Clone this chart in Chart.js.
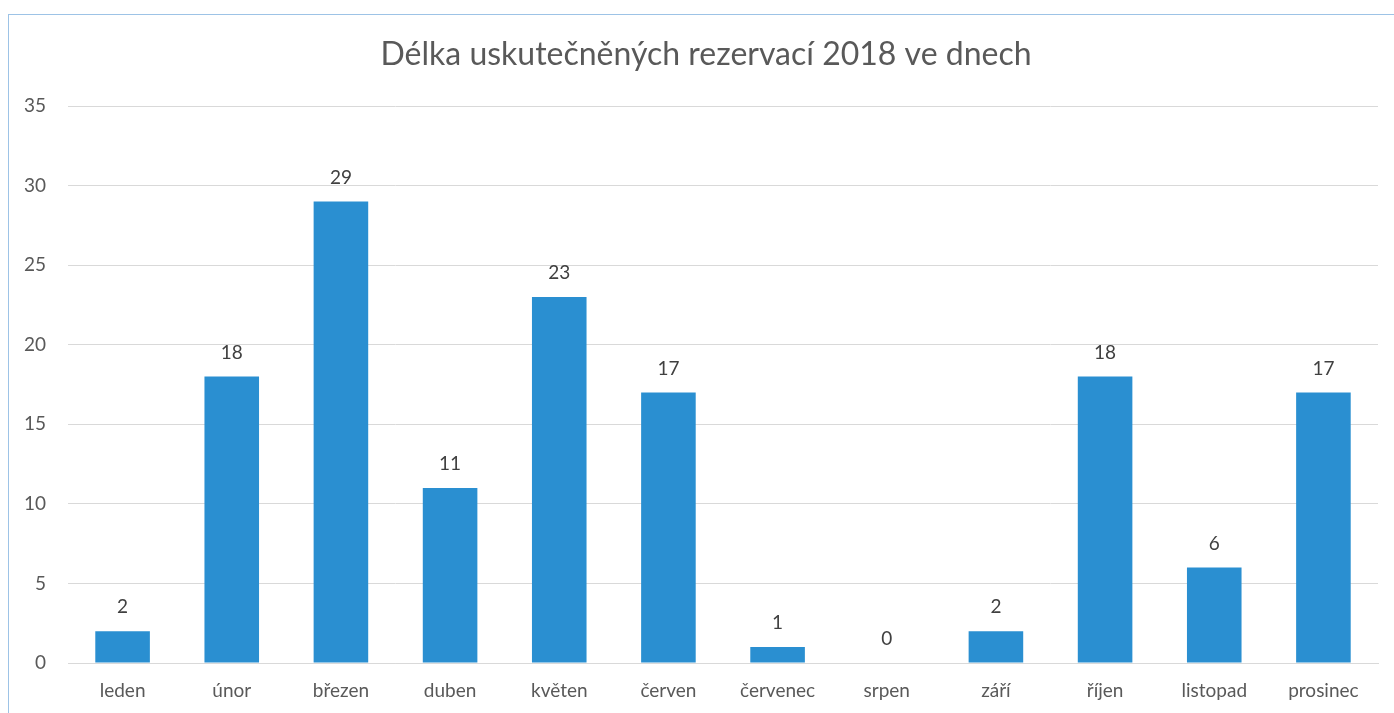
<!DOCTYPE html>
<html>
<head>
<meta charset="utf-8">
<script src="https://cdn.jsdelivr.net/npm/chart.js@4"></script>
<style>
  html, body { margin: 0; padding: 0; background: #fff; overflow: hidden; }
  #frame { position: absolute; left: 8px; top: 14px; width: 1420px; height: 740px; border: 1px solid #9DC3E6; }
  #wrap { position: absolute; left: 0; top: 0; width: 1394px; height: 713px; }
</style>
</head>
<body>
<div id="frame"></div>
<div id="wrap"><canvas id="barChart"></canvas></div>
<script>
// Délka uskutečněných rezervací 2018
const months = ['leden', 'únor', 'březen', 'duben', 'květen', 'červen', 'červenec', 'srpen', 'září', 'říjen', 'listopad', 'prosinec'];
const days = [2, 18, 29, 11, 23, 17, 1, 0, 2, 18, 6, 17];
const yTicks = [0, 5, 10, 15, 20, 25, 30, 35];
const chartTitle = 'Délka uskutečněných rezervací 2018 ve dnech';

const fontName = 'Lato, "Open Sans", sans-serif';

// nadpis (vycentrovany jako v Excelu) + hodnoty nad sloupci
const valueLabels = {
  id: 'valueLabels',
  afterDraw(chart) {
    const ctx = chart.ctx;
    ctx.save();
    ctx.font = '32px ' + fontName;
    ctx.fillStyle = '#595959';
    ctx.textAlign = 'center';
    ctx.textBaseline = 'middle';
    ctx.fillText(chartTitle, chart.width / 2 + 9, 55);
    ctx.restore();
  },
  afterDatasetsDraw(chart) {
    const ctx = chart.ctx;
    const meta = chart.getDatasetMeta(0);
    ctx.save();
    ctx.font = '19px ' + fontName;
    ctx.fillStyle = '#404040';
    ctx.textAlign = 'center';
    ctx.textBaseline = 'middle';
    meta.data.forEach((bar, i) => {
      ctx.fillText(String(days[i]), bar.x, bar.y - 24);
    });
    ctx.restore();
  }
};

const ctx = document.getElementById('barChart').getContext('2d');
new Chart(ctx, {
  type: 'bar',
  data: {
    labels: months,
    datasets: [{
      label: 'Dny',
      data: days,
      backgroundColor: '#2A8FD1',
      barPercentage: 0.5,
      categoryPercentage: 1
    }]
  },
  options: {
    responsive: true,
    maintainAspectRatio: false,
    animation: false,
    layout: { padding: { top: 106, right: 16, bottom: 0, left: 0 } },
    plugins: {
      legend: { display: false },
      tooltip: { enabled: false },
      title: { display: false }
    },
    scales: {
      x: {
        afterFit(scale) { scale.height = 50; },
        grid: { display: false, drawTicks: false },
        border: { color: '#D9D9D9' },
        ticks: { color: '#595959', font: { family: fontName, size: 19 }, padding: 16 }
      },
      y: {
        min: 0,
        max: 35,
        afterBuildTicks(scale) { scale.ticks = yTicks.map(v => ({ value: v })); },
        afterFit(scale) { scale.width = 68; },
        grid: { color: '#D9D9D9', drawTicks: false },
        border: { display: false },
        ticks: { color: '#595959', font: { family: fontName, size: 19 }, padding: 22 }
      }
    }
  },
  plugins: [valueLabels]
});
</script>
</body>
</html>
